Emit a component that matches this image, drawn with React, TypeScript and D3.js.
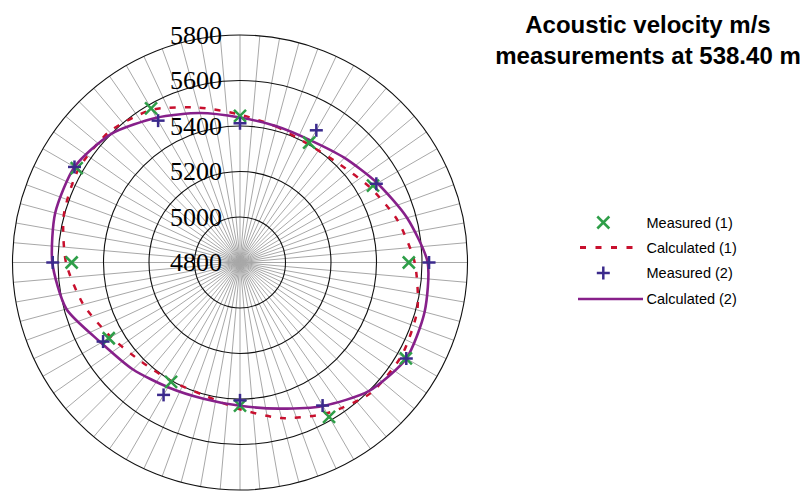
import React from "react";
import * as d3 from "d3";

// directions (degrees from north, clockwise) of the measured points
const measuredAngles = [0, 30, 60, 90, 120, 150, 180, 210, 240, 270, 300, 330];
const measured1 = [5444, 5408, 5475, 5542, 5642, 5583, 5429, 5406, 5466, 5540, 5629, 5582];
const measured2 = [5412, 5471, 5492, 5631, 5644, 5526, 5406, 5472, 5495, 5623, 5640, 5520];

// fitted curves, read every 15 degrees
const calcAngles = [0, 15, 30, 45, 60, 75, 90, 105, 120, 135, 150, 165, 180, 195, 210, 225, 240, 255, 270, 285, 300, 315, 330, 345];
const calculated1 = [5450, 5418, 5400, 5414, 5460, 5517, 5568, 5607, 5620, 5612, 5565, 5508, 5445, 5405, 5402, 5415, 5455, 5513, 5565, 5602, 5620, 5613, 5575, 5505];
const calculated2 = [5437, 5420, 5420, 5450, 5497, 5560, 5625, 5640, 5644, 5600, 5528, 5465, 5430, 5420, 5433, 5465, 5505, 5590, 5625, 5641, 5640, 5600, 5535, 5480];

const ringTicks = [4800, 5000, 5200, 5400, 5600, 5800];
const titleLines = ["Acoustic velocity m/s", "measurements at 538.40 m"];
const legendItems = ["Measured (1)", "Calculated (1)", "Measured (2)", "Calculated (2)"];

const GREEN = "#2e9e48";
const RED = "#c8102e";
const BLUE = "#3b2a8c";
const PURPLE = "#87208a";

const width = 808;
const height = 492;
const cx = 240;
const cy = 262.5;
const outerR = 227.5;

export default function App() {
  const r = d3.scaleLinear().domain([4800, 5800]).range([0, outerR]);
  const rad = (deg: number) => (deg * Math.PI) / 180;
  const spokes = d3.range(0, 360, 5);

  const line = d3
    .lineRadial<[number, number]>()
    .angle(d => rad(d[0]))
    .radius(d => r(d[1]))
    .curve(d3.curveCardinalClosed.tension(0.3));

  const pos = (deg: number, v: number): [number, number] => {
    const rr = r(v);
    return [rr * Math.sin(rad(deg)), -rr * Math.cos(rad(deg))];
  };

  const cross = (x: number, y: number, s: number, color: string, key: string) => (
    <g key={key} stroke={color} strokeWidth={2.5}>
      <line x1={x - s} y1={y - s} x2={x + s} y2={y + s} />
      <line x1={x - s} y1={y + s} x2={x + s} y2={y - s} />
    </g>
  );
  const plus = (x: number, y: number, s: number, color: string, key: string) => (
    <g key={key} stroke={color} strokeWidth={2.5}>
      <line x1={x - s} y1={y} x2={x + s} y2={y} />
      <line x1={x} y1={y - s} x2={x} y2={y + s} />
    </g>
  );

  const legendY = [222.5, 247.5, 273, 299];

  return (
    <svg width={width} height={height} style={{ position: "fixed", left: 0, top: 0, background: "#fff" }}>
      <g transform={`translate(${cx},${cy})`}>
        {spokes.map(a => {
          const [x, y] = pos(a, 5800);
          return <line key={a} x1={0} y1={0} x2={x} y2={y} stroke="#a8a8a8" strokeWidth={1} />;
        })}
        {ringTicks.slice(1).map(t => (
          <circle key={t} r={r(t)} fill="none" stroke="#111" strokeWidth={1.1} />
        ))}
        {ringTicks.map(t => (
          <text
            key={t}
            x={-18}
            y={-r(t) + 8.6}
            textAnchor="end"
            fontFamily="'Liberation Serif', 'Times New Roman', serif"
            fontSize={26}
            fill="#000"
          >
            {t}
          </text>
        ))}
        <path
          d={line(calcAngles.map((a, i) => [a, calculated1[i]]) as [number, number][]) || ""}
          fill="none"
          stroke={RED}
          strokeWidth={2.5}
          strokeDasharray="6 9"
        />
        <path
          d={line(calcAngles.map((a, i) => [a, calculated2[i]]) as [number, number][]) || ""}
          fill="none"
          stroke={PURPLE}
          strokeWidth={2.6}
        />
        {measuredAngles.map((a, i) => {
          const [x, y] = pos(a, measured1[i]);
          return cross(x, y, 6, GREEN, "m1" + a);
        })}
        {measuredAngles.map((a, i) => {
          const [x, y] = pos(a, measured2[i]);
          return plus(x, y, 6.5, BLUE, "m2" + a);
        })}
      </g>

      <g fontFamily="'Liberation Sans', Arial, sans-serif" fontWeight="bold" fontSize={24} textAnchor="middle">
        <text x={648} y={33}>{titleLines[0]}</text>
        <text x={648} y={64}>{titleLines[1]}</text>
      </g>

      <g fontFamily="'Liberation Sans', Arial, sans-serif" fontSize={14.5} fill="#000">
        {cross(603.3, legendY[0], 6, GREEN, "lg0")}
        <line x1={580} y1={legendY[1]} x2={640} y2={legendY[1]} stroke={RED} strokeWidth={3} strokeDasharray="6 9.5" />
        {plus(603.3, legendY[2], 6.5, BLUE, "lg2")}
        <line x1={578} y1={legendY[3]} x2={643} y2={legendY[3]} stroke={PURPLE} strokeWidth={2.7} />
        {legendItems.map((t, i) => (
          <text key={t} x={646.5} y={legendY[i] + 5.2}>
            {t}
          </text>
        ))}
      </g>
    </svg>
  );
}
